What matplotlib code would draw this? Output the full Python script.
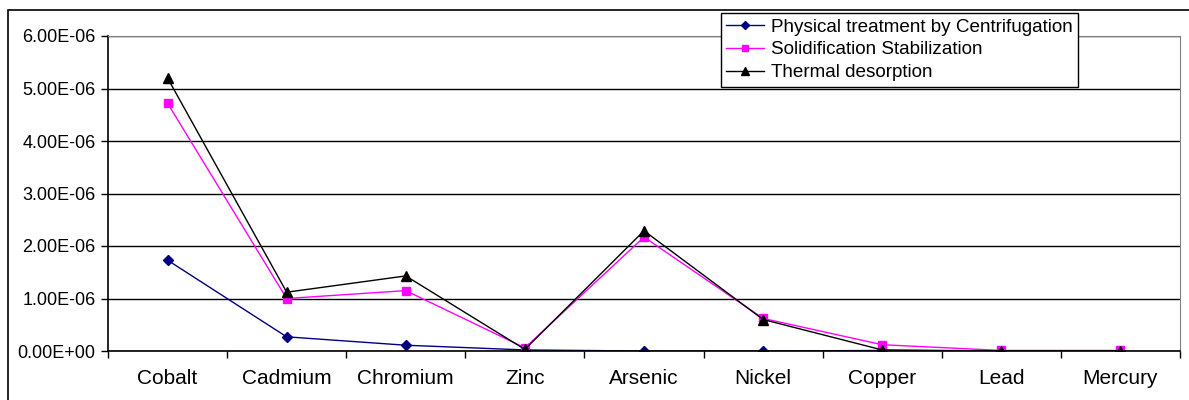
import numpy as np
import matplotlib.pyplot as plt
from matplotlib.patches import Rectangle
from matplotlib.ticker import FuncFormatter

metals = ["Cobalt", "Cadmium", "Chromium", "Zinc", "Arsenic",
          "Nickel", "Copper", "Lead", "Mercury"]
centrifugation = [1.73e-6, 0.27e-6, 0.11e-6, 0.02e-6, 0.0,
                  0.0, 0.01e-6, 0.0, 0.0]
solidification = [4.72e-6, 1.00e-6, 1.15e-6, 0.06e-6, 2.17e-6,
                  0.62e-6, 0.12e-6, 0.01e-6, 0.01e-6]
thermal = [5.20e-6, 1.12e-6, 1.43e-6, 0.03e-6, 2.29e-6,
           0.60e-6, 0.02e-6, 0.0, 0.0]

plt.rcParams['font.family'] = ['Liberation Sans', 'DejaVu Sans']

fig = plt.figure(figsize=(11.89, 4.0), dpi=100)
# outer chart frame
fig.patches.append(Rectangle((8 / 1189, -0.01), 1.2, 1 - 10 / 400 + 0.01,
                             transform=fig.transFigure, fill=False,
                             edgecolor='black', linewidth=1.2))

ax = fig.add_axes([108 / 1189, 1 - 351 / 400, (1180 - 108) / 1189, (351 - 36) / 400])
x = np.arange(len(metals))

ax.plot(x, centrifugation, color='#000080', marker='D', markersize=5,
        linewidth=1, label='Physical treatment by Centrifugation')
ax.plot(x, solidification, color='#FF00FF', marker='s', markersize=6,
        linewidth=1, label='Solidification Stabilization')
ax.plot(x, thermal, color='black', marker='^', markersize=7,
        linewidth=1, label='Thermal desorption')

ax.set_xlim(-0.5, len(metals) - 0.5)
ax.set_ylim(0, 6e-6)
ax.set_yticks(np.arange(0, 6.01e-6, 1e-6))
ax.yaxis.set_major_formatter(FuncFormatter(
    lambda v, p: "0.00E+00" if v == 0 else "%.2fE-06" % (v * 1e6)))
ax.set_xticks(x)
ax.set_xticklabels(metals, fontsize=15)
ax.set_xticks(np.arange(-0.5, len(metals), 1), minor=True)
ax.tick_params(axis='x', which='major', length=0, pad=13)
ax.tick_params(axis='x', which='minor', length=5, width=1, direction='out')
ax.tick_params(axis='y', labelsize=13, length=5, width=1, direction='out', pad=4)
ax.grid(axis='y', color='black', linewidth=1)
ax.set_axisbelow(True)

for side in ['top', 'right']:
    ax.spines[side].set_color('gray')
for side in ['left', 'bottom']:
    ax.spines[side].set_color('black')
    ax.spines[side].set_linewidth(1.2)

leg = fig.legend(loc='upper left', bbox_to_anchor=(721 / 1189, 1 - 13 / 400),
                 fontsize=13.6, frameon=True, fancybox=False, edgecolor='black',
                 framealpha=1, borderpad=0.28, labelspacing=0.3,
                 handlelength=2.0, handletextpad=0.35, borderaxespad=0,
                 markerscale=0.75)
leg.get_frame().set_linewidth(1)

fig.savefig('out.png', dpi=100)
